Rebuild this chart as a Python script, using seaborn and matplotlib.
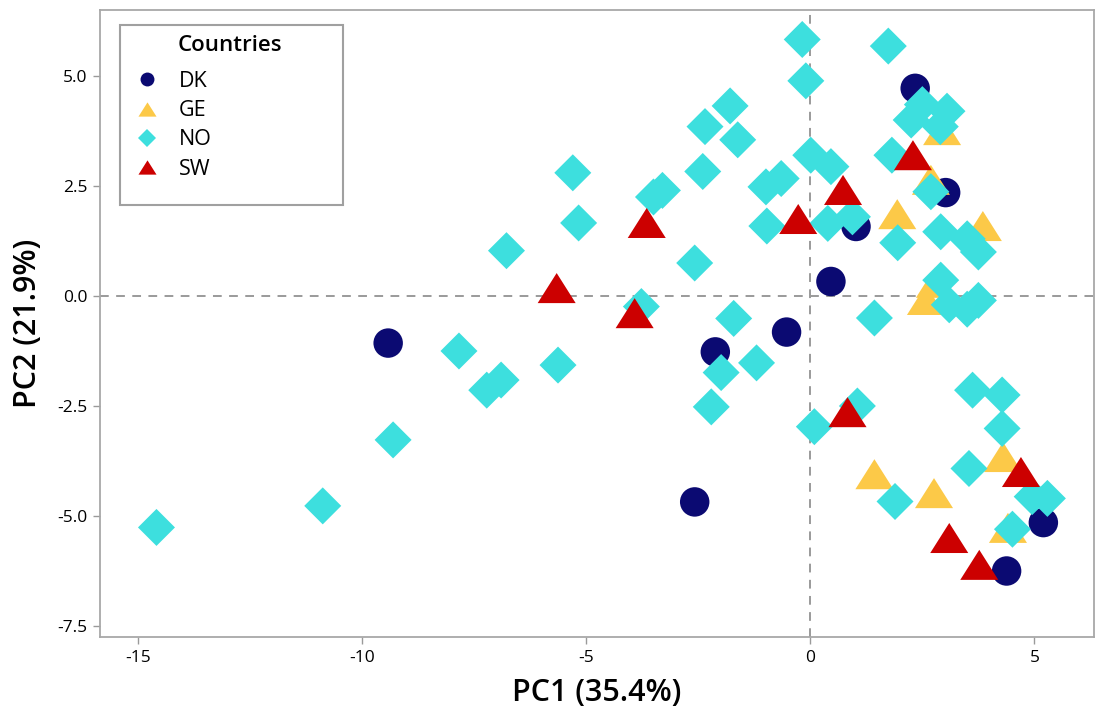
import matplotlib
matplotlib.use("Agg")
import matplotlib.pyplot as plt
import seaborn as sns
import pandas as pd
from matplotlib.patches import Rectangle

# PCA scores
countries = ["DK", "GE", "NO", "SW"]

dk_pc1 = [-9.42, -2.12, -0.53, 0.46, 1.02, 2.34, 3.02, -2.58, 5.20, 4.38]
dk_pc2 = [-1.07, -1.27, -0.82, 0.33, 1.58, 4.72, 2.35, -4.68, -5.15, -6.25]

ge_pc1 = [2.94, 2.69, 1.94, 3.85, 2.78, 2.58, 1.43, 2.76, 4.30, 4.41]
ge_pc2 = [3.77, 2.64, 1.86, 1.59, 0.30, -0.09, -4.05, -4.48, -3.66, -5.27]

no_pc1 = [-14.59, -10.88, -9.31, -7.84, -7.22, -6.90, -5.63, -6.78, -5.30, -5.17,
          -3.50, -3.30, -3.77, -2.58, -0.18, -0.10, 1.74, -1.79, -2.35, -1.62,
          -2.40, -0.99, -0.65, -0.97, 0.01, 0.46, 0.39, 0.94, 1.82, 1.95,
          2.25, 2.50, 2.90, 3.05, 2.69, 2.91, 3.50, 3.75, 2.91, 3.10,
          3.50, 3.75, 1.43, -1.71, -1.99, -1.20, -2.21, 0.09, 1.05, 3.62,
          4.28, 4.28, 3.54, 1.89, 4.95, 5.29, 4.51]
no_pc2 = [-5.26, -4.77, -3.27, -1.25, -2.14, -1.91, -1.57, 1.03, 2.80, 1.66,
          2.25, 2.40, -0.24, 0.75, 5.83, 4.89, 5.68, 4.32, 3.85, 3.55,
          2.83, 2.48, 2.67, 1.59, 3.20, 2.94, 1.65, 1.80, 3.20, 1.21,
          4.00, 4.35, 3.85, 4.20, 2.37, 1.46, 1.30, 1.00, 0.36, -0.20,
          -0.30, -0.10, -0.50, -0.51, -1.74, -1.52, -2.52, -2.97, -2.50, -2.14,
          -2.25, -3.01, -3.92, -4.67, -4.56, -4.60, -5.30]

sw_pc1 = [-5.66, -3.65, -3.92, -0.27, 0.73, 2.29, 0.83, 4.70, 3.10, 3.77]
sw_pc2 = [0.18, 1.66, -0.39, 1.75, 2.41, 3.20, -2.64, -4.00, -5.50, -6.11]

df = pd.concat([
    pd.DataFrame({"PC1": dk_pc1, "PC2": dk_pc2, "country": "DK"}),
    pd.DataFrame({"PC1": ge_pc1, "PC2": ge_pc2, "country": "GE"}),
    pd.DataFrame({"PC1": no_pc1, "PC2": no_pc2, "country": "NO"}),
    pd.DataFrame({"PC1": sw_pc1, "PC2": sw_pc2, "country": "SW"}),
], ignore_index=True)

sns.set_theme(style="white")
plt.rcParams["font.family"] = ["Open Sans", "DejaVu Sans"]
plt.rcParams["axes.unicode_minus"] = False
plt.rcParams["text.color"] = "black"
plt.rcParams["axes.labelcolor"] = "black"

tri = [(-1, -0.79), (1, -0.79), (0, 0.79)]
palette = {"DK": "#0b0a72", "GE": "#fcc948", "NO": "#3ddfde", "SW": "#cc0000"}
markers = {"DK": "o", "GE": tri, "NO": "D", "SW": tri}
sizes = {"DK": 450, "GE": 750, "NO": 355, "SW": 750}

fig = plt.figure(figsize=(10.95, 7.17), dpi=100)
ax = fig.add_axes([100 / 1095, 80 / 717, 994 / 1095, 627 / 717])

sns.scatterplot(data=df, x="PC1", y="PC2", hue="country", style="country",
                size="country", hue_order=countries, style_order=countries,
                size_order=countries, palette=palette, markers=markers,
                sizes=sizes, linewidth=0, alpha=1, ax=ax, zorder=3)

ax.axvline(0, color="#9a9a9a", lw=1.4, ls=(0, (4.5, 3.8)), zorder=1)
ax.axhline(0, color="#9a9a9a", lw=1.4, ls=(0, (4.5, 3.8)), zorder=1)

ax.set_xlim(-15.85, 6.33)
ax.set_ylim(-7.75, 6.5)
ax.set_xticks([-15, -10, -5, 0, 5])
ax.set_yticks([-7.5, -5, -2.5, 0, 2.5, 5])
ax.set_yticklabels(["-7.5", "-5.0", "-2.5", "0.0", "2.5", "5.0"])
ax.tick_params(axis="both", direction="out", length=5, width=1, color="#9a9a9a",
               labelsize=12.5, labelcolor="black", pad=4, left=True, bottom=True)
for s in ax.spines.values():
    s.set_color("#a8a8a8")
    s.set_linewidth(1.3)

ax.set_xlabel("PC1 (35.4%)", fontsize=22, fontweight="semibold", labelpad=9)
ax.set_ylabel("PC2 (21.9%)", fontsize=22, fontweight="semibold", labelpad=10)

# legend: seaborn handles, custom frame and title
handles, labels = ax.get_legend_handles_labels()
ax.get_legend().remove()
keep = [(h, l) for h, l in zip(handles, labels) if l in countries]
leg_ms = {"DK": 10, "GE": 13, "NO": 9.3, "SW": 13}
for h, l in keep:
    h.set_markersize(leg_ms[l])
leg = ax.legend([h for h, _ in keep], [l for _, l in keep], loc="upper left",
                bbox_to_anchor=(0.0368, 0.9027), frameon=False, fontsize=15.5,
                handlelength=1.0, handletextpad=0.95, labelspacing=0.38,
                borderpad=0, borderaxespad=0)
for t in leg.get_texts():
    t.set_color("black")
ax.add_patch(Rectangle((0.0201, 0.689), 0.224, 0.287, transform=ax.transAxes,
                       facecolor="white", edgecolor="#a0a0a0", lw=1.5, zorder=4))
ax.text(0.0785, 0.944, "Countries", transform=ax.transAxes, ha="left",
        va="center", fontsize=16, fontweight="semibold", color="black", zorder=6)

fig.savefig("out.png", dpi=100)
